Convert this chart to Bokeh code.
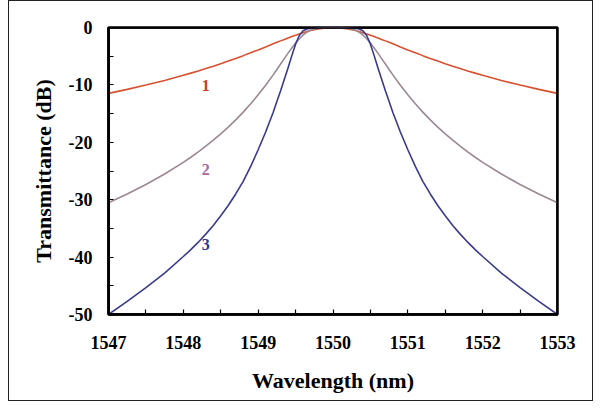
from bokeh.plotting import figure
from bokeh.models import FixedTicker, Range1d, Span
from bokeh.embed import file_html
from bokeh.resources import INLINE
from bokeh.core.properties import value

wavelength = [1547, 1547.25, 1547.5, 1547.75, 1548, 1548.1, 1548.2, 1548.3, 1548.4, 1548.5,
              1548.6, 1548.7, 1548.8, 1548.9, 1549, 1549.1, 1549.2, 1549.25, 1549.3, 1549.35,
              1549.4, 1549.45, 1549.5, 1549.55, 1549.6, 1549.65, 1549.7, 1549.8, 1549.9,
              1550,
              1550.1, 1550.2, 1550.3, 1550.35, 1550.4, 1550.45, 1550.5, 1550.55, 1550.6,
              1550.65, 1550.7, 1550.75, 1550.8, 1550.9, 1551, 1551.1, 1551.2, 1551.3, 1551.4,
              1551.5, 1551.6, 1551.7, 1551.8, 1551.9, 1552, 1552.25, 1552.5, 1552.75, 1553]

curve1 = [-11.48, -10.78, -10.03, -9.22, -8.33, -7.95, -7.56, -7.16, -6.74, -6.30,
          -5.85, -5.38, -4.90, -4.40, -3.90, -3.38, -2.85, -2.59, -2.33, -2.08,
          -1.83, -1.58, -1.34, -1.12, -0.91, -0.71, -0.53, -0.25, -0.06,
          0.0,
          -0.06, -0.25, -0.53, -0.71, -0.91, -1.12, -1.34, -1.58, -1.83,
          -2.08, -2.33, -2.59, -2.85, -3.38, -3.90, -4.40, -4.90, -5.38, -5.85,
          -6.30, -6.74, -7.16, -7.56, -7.95, -8.33, -9.22, -10.03, -10.78, -11.48]

curve2 = [-30.52, -29.01, -27.35, -25.53, -23.49, -22.60, -21.67, -20.68, -19.64, -18.53,
          -17.36, -16.09, -14.74, -13.29, -11.73, -10.05, -8.25, -7.32, -6.37, -5.42,
          -4.47, -3.56, -2.71, -1.96, -1.32, -0.82, -0.46, -0.10, -0.01,
          0.0,
          -0.01, -0.10, -0.46, -0.82, -1.32, -1.96, -2.71, -3.56, -4.47,
          -5.42, -6.37, -7.32, -8.25, -10.05, -11.73, -13.29, -14.74, -16.09, -17.36,
          -18.53, -19.64, -20.68, -21.67, -22.60, -23.49, -25.53, -27.35, -29.01, -30.52]

curve3 = [-50.0, -47.7, -45.3, -42.8, -39.9, -38.7, -37.4, -36.0, -34.5, -32.8,
          -31.0, -29.0, -26.8, -24.2, -21.3, -18.2, -14.8, -12.9, -11.0, -9.0,
          -7.0, -4.9, -2.9, -1.4, -0.55, -0.25, -0.12, -0.03, 0.0,
          0.0,
          0.0, -0.03, -0.12, -0.25, -0.55, -1.4, -2.9, -4.9, -7.0,
          -9.0, -11.0, -12.9, -14.8, -18.2, -21.3, -24.2, -26.8, -29.0, -31.0,
          -32.8, -34.5, -36.0, -37.4, -38.7, -39.9, -42.8, -45.3, -47.7, -50.0]

label_text = ["1", "2", "3"]
label_x = [1548.30, 1548.30, 1548.30]
label_y = [-10.1, -24.7, -37.8]

x_ticks = [1547, 1548, 1549, 1550, 1551, 1552, 1553]
x_minor = [1547.5, 1548.5, 1549.5, 1550.5, 1551.5, 1552.5]
y_ticks = [-50, -40, -30, -20, -10, 0]
y_minor = [-45, -35, -25, -15, -5]

line_colors = ["#d8512f", "#9c8894", "#3a3a8c"]
label_colors = ["#c83c28", "#a867a8", "#2f3490"]

p = figure(width=585, height=401, output_backend="svg", toolbar_location=None,
           x_range=Range1d(x_ticks[0], x_ticks[-1]), y_range=Range1d(y_ticks[0], y_ticks[-1]))
p.styles = {"border": "1px solid #222222", "margin-left": "8px", "margin-top": "0px"}
p.min_border_left = 99
p.min_border_right = 37
p.min_border_top = 26
p.min_border_bottom = 88
p.background_fill_color = "white"
p.border_fill_color = "white"
p.outline_line_color = "black"
p.outline_line_width = 2.5
p.grid.visible = False

for ys, c in zip([curve1, curve2, curve3], line_colors):
    p.line(wavelength, ys, line_color=c, line_width=1.6)

p.text(x=label_x, y=label_y, text=label_text, text_color=label_colors,
       text_font=value("Liberation Serif"), text_font_style="bold",
       text_font_size="16px", text_align="center", text_baseline="middle")

# frame edges drawn as spans at the range ends
for loc, dim in [(x_ticks[0], "height"), (x_ticks[-1], "height"),
                 (y_ticks[0], "width"), (y_ticks[-1], "width")]:
    p.add_layout(Span(location=loc, dimension=dim, line_color="black", line_width=2.5))

serif = "Liberation Serif"
for ax in (p.xaxis[0], p.yaxis[0]):
    ax.axis_line_width = 2.5
    ax.axis_line_color = "black"
    ax.major_tick_in = 5
    ax.major_tick_out = 0
    ax.minor_tick_in = 5
    ax.minor_tick_out = 0
    ax.major_tick_line_width = 1.2
    ax.minor_tick_line_width = 1.2
    ax.major_tick_line_color = "black"
    ax.minor_tick_line_color = "black"
    ax.major_label_text_font = serif
    ax.major_label_text_font_style = "bold"
    ax.major_label_text_font_size = "18px"
    ax.major_label_text_color = "black"
    ax.axis_label_text_font = serif
    ax.axis_label_text_font_style = "bold"
    ax.axis_label_text_font_size = "22px"
    ax.axis_label_text_color = "black"

p.xaxis[0].ticker = FixedTicker(ticks=x_ticks, minor_ticks=x_minor)
p.yaxis[0].ticker = FixedTicker(ticks=y_ticks, minor_ticks=y_minor)
p.xaxis[0].major_label_overrides = {t: str(t) for t in x_ticks}
p.yaxis[0].major_label_overrides = {t: str(t) for t in y_ticks}
p.xaxis[0].major_label_standoff = 21
p.yaxis[0].major_label_standoff = 16
p.xaxis[0].axis_label = "Wavelength (nm)"
p.yaxis[0].axis_label = "Transmittance (dB)"
p.xaxis[0].axis_label_standoff = 16
p.yaxis[0].axis_label_standoff = 10

open("out.html", "w").write(file_html(p, INLINE))
